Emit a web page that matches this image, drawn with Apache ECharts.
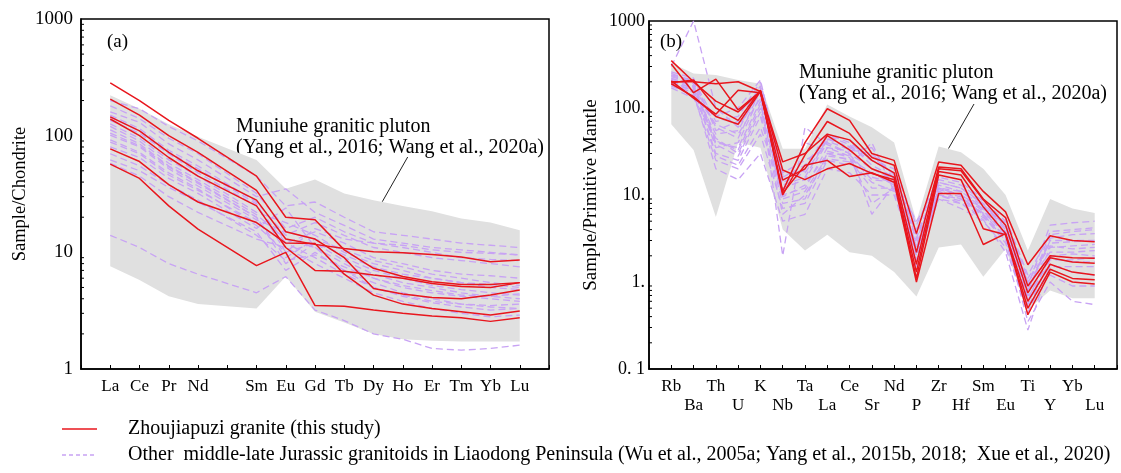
<!DOCTYPE html>
<html><head><meta charset="utf-8">
<script src="https://cdn.jsdelivr.net/npm/echarts@6/dist/echarts.min.js"></script>
<style>html,body{margin:0;padding:0;background:#fff}#c{width:1121px;height:473px}</style>
</head><body><div id="c"></div>
<script>
// ---------- Panel (a): chondrite-normalised REE ----------
const reeCategories = ['', 'La','Ce','Pr','Nd','Pm','Sm','Eu','Gd','Tb','Dy','Ho','Er','Tm','Yb','Lu', ''];
const reeElements   = ['La','Ce','Pr','Nd','Sm','Eu','Gd','Tb','Dy','Ho','Er','Tm','Yb','Lu'];
const reeYLabels = ['1', '10', '100', '1000'];

// Zhoujiapuzi granite (red)
const reeRed1 = [284, 200, 135, 95, 45, 20, 19, 10.5, 7.3, 6.2, 5.6, 5.3, 5.3, 5.5];
const reeRed2 = [206, 150, 100, 72, 34, 15, 13, 9, 4.9, 4.4, 4.1, 4.0, 4.3, 4.75];
const reeRed3 = [145, 110, 72, 50, 28, 13, 11.7, 10.8, 10.1, 9.9, 9.6, 9.1, 8.3, 8.6];
const reeRed4 = [139, 100, 65, 45, 25, 11, 7, 6.9, 6.4, 6.0, 5.4, 5.1, 5.0, 5.5];
const reeRed5 = [77, 60, 38, 27, 18, 12, 11.9, 6.5, 4.3, 3.6, 3.3, 3.1, 2.9, 3.14];
const reeRed6 = [57, 43, 25, 15.8, 7.7, 10, 3.5, 3.45, 3.2, 3.0, 2.85, 2.75, 2.56, 2.75];

// Other middle-late Jurassic granitoids (purple dashed)
const reeOther1  = [200, 170, 120, 90, 45, 25, 27, 20, 15, 14, 13, 12, 11.5, 11];
const reeOther2  = [160, 130, 85, 62, 30, 35, 22, 17, 13, 12, 11, 10.5, 10, 9.5];
const reeOther3  = [150, 115, 75, 55, 27, 14, 18, 14, 11, 10, 9, 8.5, 8, 7.5];
const reeOther4  = [135, 105, 70, 48, 25, 12, 15, 12, 9, 8, 7, 6.5, 6.3, 6];
const reeOther5  = [126, 95, 62, 45, 22, 18, 14, 10, 8, 7, 6, 5.5, 5.3, 5];
const reeOther6  = [112, 85, 55, 40, 20, 9, 13, 10.5, 8.5, 7.5, 6.5, 6, 5.5, 5.2];
const reeOther7  = [101, 80, 52, 37, 19, 15, 13, 9, 7, 6, 5.2, 4.8, 4.5, 4.3];
const reeOther8  = [92, 72, 48, 35, 17, 10, 12, 8.5, 6.5, 5.5, 5, 4.5, 4.2, 4];
const reeOther9  = [80, 65, 43, 32, 16, 24, 11, 8, 6, 5, 4.5, 4.2, 4, 3.8];
const reeOther10 = [62, 50, 36, 27, 15, 7, 10, 7, 5.5, 4.5, 4, 3.6, 3.4, 3.3];
const reeOther11 = [58, 45, 30, 22, 13, 11, 8, 6, 4.5, 3.8, 3.3, 3, 2.8, 2.9];
const reeOther12 = [14, 11, 8, 6.5, 4.5, 6.2, 3.2, 2.6, 2.0, 1.8, 1.5, 1.45, 1.5, 1.6];
const reeOther13 = [180, 140, 95, 70, 32, 16, 20, 15, 12, 11, 10, 9, 8.7, 8.5];
const reeOther14 = [145, 110, 72, 52, 26, 10, 16, 13, 12, 11.5, 10.5, 10, 9.8, 9.5];
const reeOther15 = [120, 90, 58, 42, 21, 13, 11, 7, 5, 4.3, 3.8, 3.6, 3.5, 3.6];
const reeOther16 = [105, 82, 54, 39, 20, 8, 12, 9.5, 7.5, 6.5, 6, 5.5, 5, 4.8];
const reeOther17 = [88, 70, 46, 34, 18, 12, 9, 6.5, 5, 4.2, 3.7, 3.4, 3.2, 3.3];
const reeOther18 = [70, 55, 38, 28, 14, 8.5, 9.5, 7.5, 6, 5.2, 4.7, 4.3, 4.2, 4.4];

// Muniuhe granitic pluton envelope (grey)
const reeFieldUpper = [222, 170, 125, 98, 62, 35, 42, 32, 28, 25, 22.5, 19.5, 18, 15.5];
const reeFieldLower = [7.6, 5.8, 4.2, 3.6, 3.3, 6.2, 3.1, 2.5, 2.0, 1.8, 1.75, 1.72, 1.72, 1.72];

// ---------- Panel (b): primitive-mantle-normalised spider ----------
const pmCategories = ['', 'Rb','Ba','Th','U','K','Nb','Ta','La','Ce','Sr','Nd','P','Zr','Hf','Sm','Eu','Ti','Y','Yb','Lu', ''];
const pmElements   = ['Rb','Ba','Th','U','K','Nb','Ta','La','Ce','Sr','Nd','P','Zr','Hf','Sm','Eu','Ti','Y','Yb','Lu'];
const pmYLabels = ['0. 1', '1.', '10.', '100.', '1000'];

const pmRed1 = [350, 200, 120, 90, 155, 11, 40, 98, 72, 30, 25, 3.6, 24, 22, 11, 6.4, 1.58, 3.4, 3.0, 2.9];
const pmRed2 = [320, 150, 215, 95, 155, 10, 29, 70, 51, 27, 22, 2.2, 21, 20, 9, 5.5, 0.9, 2.0, 1.9, 1.87];
const pmRed3 = [200, 200, 190, 200, 155, 24, 30, 50, 43, 25, 18, 1.6, 20, 19, 8.8, 4.5, 0.75, 1.9, 1.7, 1.64];
const pmRed4 = [205, 130, 85, 160, 150, 14.8, 20, 48, 33, 20, 16, 1.3, 18.6, 17, 7.3, 3.6, 0.6, 1.6, 1.3, 1.2];
const pmRed5 = [195, 210, 100, 72, 160, 19.4, 15, 20, 23, 17.7, 15, 1.1, 17, 15, 4.1, 3.5, 0.5, 1.4, 1.1, 1.06];
const pmRed6 = [190, 135, 80, 65, 155, 10.5, 22, 25, 16.3, 18, 14, 1.0, 10.4, 10.4, 2.7, 3.6, 0.42, 1.3, 1.0, 0.95];

const pmOther1  = [300, 1000, 100, 60, 150, 12, 15, 40, 30, 20, 15, 2.5, 12, 10, 7, 4, 0.8, 3, 3, 3];
const pmOther2  = [250, 200, 60, 45, 160, 15, 20, 45, 35, 25, 18, 3, 14, 12, 8, 4.5, 0.9, 4.5, 4.8, 5];
const pmOther3  = [220, 180, 40, 35, 120, 10, 12, 35, 28, 15, 14, 2, 12, 10, 6.5, 3.5, 0.7, 3.8, 4, 4.2];
const pmOther4  = [200, 170, 30, 25, 80, 8, 9, 30, 25, 12, 12, 2.2, 11, 9, 6, 3, 0.6, 2.5, 2.6, 2.7];
const pmOther5  = [190, 160, 50, 55, 170, 14, 18, 42, 33, 30, 17, 3.5, 13, 11, 7.5, 4.2, 1.0, 2.2, 2.2, 2.3];
const pmOther6  = [180, 140, 25, 20, 50, 7, 8, 25, 22, 40, 11, 2.8, 10, 8, 5.5, 3.2, 0.5, 1.8, 1.8, 1.9];
const pmOther7  = [240, 210, 70, 80, 200, 16, 22, 48, 38, 22, 16, 4, 15, 13, 8.5, 5, 1.1, 2.8, 2.9, 3];
const pmOther8  = [210, 150, 20, 15, 30, 5, 6, 20, 18, 10, 10, 1.8, 9, 7, 5, 2.5, 0.45, 1.5, 1.5, 1.5];
const pmOther9  = [230, 190, 35, 40, 140, 2, 60, 38, 30, 6, 13, 2.4, 10, 9, 6.2, 3.8, 0.7, 1.2, 0.9, 0.9];
const pmOther10 = [170, 130, 45, 30, 100, 9, 11, 28, 26, 18, 13, 1.5, 11, 9.5, 6, 3.3, 0.35, 1.0, 0.6, 0.55];
const pmOther11 = [260, 220, 55, 70, 180, 18, 25, 35, 32, 35, 15, 5, 12, 11, 7, 4.8, 0.8, 3.2, 3.5, 3.6];
const pmOther12 = [200, 170, 28, 22, 60, 11, 40, 32, 27, 8, 12, 2.0, 10, 8.5, 5.8, 2.8, 0.55, 2.0, 2.1, 2.0];
const pmOther13 = [185, 150, 65, 50, 130, 13, 16, 44, 36, 28, 17, 3.2, 14, 12, 7.8, 4.4, 1.0, 2.6, 2.4, 2.5];
const pmOther14 = [215, 175, 38, 28, 90, 6, 10, 26, 24, 14, 11, 2.6, 9, 8, 5.2, 2.2, 0.28, 1.6, 1.3, 1.2];
const pmOther15 = [195, 160, 80, 100, 210, 17, 19, 50, 40, 25, 20, 4.5, 16, 14, 9, 5.5, 1.2, 3.5, 3.8, 4];
const pmOther16 = [235, 200, 42, 33, 110, 9.5, 13, 30, 29, 16, 14, 2.1, 11.5, 10, 6.8, 3.6, 0.65, 1.9, 1.7, 1.7];

const pmFieldUpper = [330, 250, 240, 210, 190, 34, 34, 110, 80, 60, 40, 5, 36, 31, 20, 10, 2.3, 9, 7, 6.2];
const pmFieldLower = [65, 33, 5.6, 40, 35, 4, 2.3, 3.5, 2.2, 2.0, 1.3, 0.68, 2.5, 2.7, 1.15, 2.4, 0.48, 0.8, 0.65, 0.65];

const legendRed = 'Zhoujiapuzi granite (this study)';
const legendOther = 'Other  middle-late Jurassic granitoids in Liaodong Peninsula (Wu et al., 2005a; Yang et al., 2015b, 2018;  Xue et al., 2020)';
const fieldLabel = 'Muniuhe granitic pluton\n(Yang et al., 2016; Wang et al., 2020a)';

// ---------- styles ----------
const FONT = '"Liberation Serif", "Times New Roman", serif';
const RED = '#e8161d';
const PURPLE = '#c8a3f4';
const GREY = '#e0e0e0';

function alignTo(cats, elements, values) {
  return cats.map(c => { const k = elements.indexOf(c); return k >= 0 ? values[k] : null; });
}
function lineSeries(xi, cats, elements, values, isRed) {
  return {
    type: 'line', xAxisIndex: xi, yAxisIndex: xi,
    name: isRed ? legendRed : legendOther,
    data: alignTo(cats, elements, values), connectNulls: true,
    symbol: 'none', silent: true, z: isRed ? 4 : 3,
    lineStyle: isRed ? { color: RED, width: 1.5 } : { color: PURPLE, width: 1.3, type: [7, 4] }
  };
}
function fieldSeries(xi, cats, elements, lower, upper) {
  return {
    type: 'custom', xAxisIndex: xi, yAxisIndex: xi, silent: true, z: 1,
    data: elements.map((el, k) => [cats.indexOf(el), lower[k], upper[k]]),
    renderItem: (params, api) => {
      if (params.dataIndex !== 0) return null;
      const up = [], lo = [];
      elements.forEach((el, k) => {
        const ci = cats.indexOf(el);
        up.push(api.coord([ci, upper[k]]));
        lo.push(api.coord([ci, lower[k]]));
      });
      return { type: 'polygon', shape: { points: up.concat(lo.reverse()) }, style: { fill: GREY, stroke: null } };
    }
  };
}
function minorTickSeries(xi, minExp, maxExp) {
  const vals = [];
  for (let e = minExp; e < maxExp; e++) for (let m = 2; m <= 9; m++) vals.push([0, m * Math.pow(10, e)]);
  return {
    type: 'custom', xAxisIndex: xi, yAxisIndex: xi, silent: true, z: 6, clip: false,
    data: vals,
    renderItem: (params, api) => {
      const p = api.coord([0, api.value(1)]);
      return { type: 'line', shape: { x1: p[0], y1: p[1], x2: p[0] + 3, y2: p[1] }, style: { stroke: '#000', lineWidth: 1 } };
    }
  };
}

const series = [];
series.push(fieldSeries(0, reeCategories, reeElements, reeFieldLower, reeFieldUpper));
[reeOther1, reeOther2, reeOther3, reeOther4, reeOther5, reeOther6, reeOther7, reeOther8, reeOther9,
 reeOther10, reeOther11, reeOther12, reeOther13, reeOther14, reeOther15, reeOther16, reeOther17, reeOther18]
  .forEach(v => series.push(lineSeries(0, reeCategories, reeElements, v, false)));
[reeRed1, reeRed2, reeRed3, reeRed4, reeRed5, reeRed6]
  .forEach(v => series.push(lineSeries(0, reeCategories, reeElements, v, true)));
series.push(minorTickSeries(0, 0, 3));

series.push(fieldSeries(1, pmCategories, pmElements, pmFieldLower, pmFieldUpper));
[pmOther1, pmOther2, pmOther3, pmOther4, pmOther5, pmOther6, pmOther7, pmOther8, pmOther9,
 pmOther10, pmOther11, pmOther12, pmOther13, pmOther14, pmOther15, pmOther16]
  .forEach(v => series.push(lineSeries(1, pmCategories, pmElements, v, false)));
[pmRed1, pmRed2, pmRed3, pmRed4, pmRed5, pmRed6]
  .forEach(v => series.push(lineSeries(1, pmCategories, pmElements, v, true)));
series.push(minorTickSeries(1, -1, 3));

const axisLine = { show: true, onZero: false, lineStyle: { color: '#000', width: 1.5 } };
function xAxis(gi, cats, stagger) {
  return {
    type: 'category', gridIndex: gi, data: cats, boundaryGap: false,
    axisLine: axisLine,
    axisTick: { inside: true, length: 4, interval: 0, lineStyle: { color: '#000', width: 1 } },
    axisLabel: {
      interval: 0, margin: 8, color: '#000', fontFamily: FONT, fontSize: 17, lineHeight: 19,
      formatter: (v, i) => (v === 'Pm' ? '' : (stagger && i % 2 === 0 && v ? '\n' + v : v))
    },
    splitLine: { show: false }
  };
}
function yAxis(gi, min, max, labels, name, gap, fs, margin, nfs) {
  const e0 = Math.round(Math.log10(min));
  return {
    type: 'log', logBase: 10, gridIndex: gi, min: min, max: max,
    axisLine: axisLine,
    axisTick: { inside: true, length: 5, lineStyle: { color: '#000' } },
    axisLabel: { color: '#000', fontFamily: FONT, fontSize: fs, margin: margin,
      formatter: v => labels[Math.round(Math.log10(v)) - e0] },
    splitLine: { show: false },
    name: name, nameLocation: 'middle', nameGap: gap,
    nameTextStyle: { color: '#000', fontFamily: FONT, fontSize: nfs }
  };
}

const option = {
  animation: false,
  backgroundColor: '#fff',
  grid: [
    { left: 81, top: 19, width: 468, height: 350, show: true, borderColor: '#000', borderWidth: 1.5, backgroundColor: 'transparent' },
    { left: 649, top: 21, width: 468, height: 348, show: true, borderColor: '#000', borderWidth: 1.5, backgroundColor: 'transparent' }
  ],
  xAxis: [xAxis(0, reeCategories, false), xAxis(1, pmCategories, true)],
  yAxis: [
    yAxis(0, 1, 1000, reeYLabels, 'Sample/Chondrite', 51, 19, 8, 18.5),
    yAxis(1, 0.1, 1000, pmYLabels, 'Sample/Primitive Mantle', 48, 18, 4, 19)
  ],
  series: series,
  graphic: [
    { type: 'text', left: 107, top: 33, style: { text: '(a)', font: '19px ' + FONT, fill: '#000' } },
    { type: 'text', left: 660, top: 33, style: { text: '(b)', font: '19px ' + FONT, fill: '#000' } },
    { type: 'text', left: 236, top: 116, style: { text: fieldLabel, font: '20px ' + FONT, fill: '#000', lineHeight: 21 } },
    { type: 'line', shape: { x1: 407.7, y1: 157, x2: 382.3, y2: 201.7 }, style: { stroke: '#222', lineWidth: 1 } },
    { type: 'text', left: 799, top: 62, style: { text: fieldLabel, font: '20px ' + FONT, fill: '#000', lineHeight: 21 } },
    { type: 'line', shape: { x1: 974, y1: 104, x2: 948.5, y2: 148.5 }, style: { stroke: '#222', lineWidth: 1 } },
    // legend
    { type: 'line', shape: { x1: 62, y1: 429, x2: 97, y2: 429 }, style: { stroke: RED, lineWidth: 1.5 } },
    { type: 'text', left: 128, top: 419, style: { text: legendRed, font: '20px ' + FONT, fill: '#000' } },
    { type: 'line', shape: { x1: 62, y1: 455, x2: 97, y2: 455 }, style: { stroke: PURPLE, lineWidth: 1.3, lineDash: [4, 3] } },
    { type: 'text', left: 128, top: 445, style: { text: legendOther, font: '20px ' + FONT, fill: '#000' } }
  ]
};
const chart = echarts.init(document.getElementById('c'), null, { renderer: 'canvas' });
chart.setOption(option);
</script>
</body></html>
